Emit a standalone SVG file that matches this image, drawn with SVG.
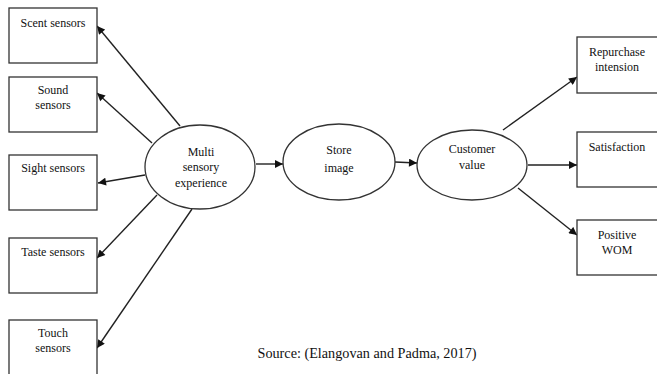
<svg xmlns="http://www.w3.org/2000/svg" width="657" height="374" viewBox="0 0 657 374">
<style>
.box{fill:#fff;stroke:#333;stroke-width:1.3}
.ell{fill:#fff;stroke:#333;stroke-width:1.3}
.t{font-family:'Liberation Serif','DejaVu Serif','Times New Roman',serif;font-size:12px;fill:#111;text-anchor:middle}
.src{font-family:'Liberation Serif','DejaVu Serif','Times New Roman',serif;font-size:14px;fill:#111;text-anchor:middle}
.c{stroke:#222;stroke-width:1.4;fill:none;marker-end:url(#ah)}
</style>
<defs>
<marker id="ah" viewBox="0 0 10 10" refX="10" refY="5" markerWidth="9" markerHeight="8" markerUnits="userSpaceOnUse" orient="auto">
<path d="M0,0 L10,5 L0,10 z" fill="#111"/>
</marker>
</defs>
<rect width="657" height="374" fill="#fff"/>
<g id="connectors">
<line class="c" x1="180" y1="126" x2="97" y2="26"/>
<line class="c" x1="152" y1="143" x2="97" y2="93"/>
<line class="c" x1="145" y1="175" x2="98" y2="183"/>
<line class="c" x1="157" y1="195" x2="97" y2="258"/>
<line class="c" x1="192" y1="209" x2="97" y2="348"/>
<line class="c" x1="256" y1="164" x2="283" y2="164"/>
<line class="c" x1="395" y1="162" x2="417" y2="163"/>
<line class="c" x1="503" y1="130" x2="577" y2="77"/>
<line class="c" x1="528" y1="165" x2="577" y2="165"/>
<line class="c" x1="518" y1="188" x2="577" y2="235"/>
</g>
<g id="scent"><rect class="box" x="9" y="8" width="88" height="55"/><text class="t" x="53" y="27">Scent sensors</text></g>
<g id="sound"><rect class="box" x="9" y="77" width="88" height="55"/><text class="t" x="53" y="94">Sound</text><text class="t" x="53" y="109">sensors</text></g>
<g id="sight"><rect class="box" x="9" y="155" width="88" height="55"/><text class="t" x="53" y="172">Sight sensors</text></g>
<g id="taste"><rect class="box" x="9" y="238" width="88" height="55"/><text class="t" x="53" y="256">Taste sensors</text></g>
<g id="touch"><rect class="box" x="9" y="320" width="88" height="60"/><text class="t" x="53" y="337">Touch</text><text class="t" x="53" y="352">sensors</text></g>
<g id="multi"><ellipse class="ell" cx="200" cy="167" rx="55" ry="42"/><text class="t" x="201" y="156">Multi</text><text class="t" x="201" y="171">sensory</text><text class="t" x="201" y="187">experience</text></g>
<g id="store"><ellipse class="ell" cx="339" cy="162" rx="56" ry="38"/><text class="t" x="339" y="154">Store</text><text class="t" x="339" y="172">image</text></g>
<g id="customer"><ellipse class="ell" cx="472" cy="165" rx="55" ry="35"/><text class="t" x="472" y="153">Customer</text><text class="t" x="472" y="169">value</text></g>
<g id="repurchase"><rect class="box" x="577" y="37" width="85" height="56"/><text class="t" x="617" y="56">Repurchase</text><text class="t" x="617" y="71">intension</text></g>
<g id="satisfaction"><rect class="box" x="577" y="132" width="85" height="55"/><text class="t" x="617" y="151">Satisfaction</text></g>
<g id="wom"><rect class="box" x="577" y="220" width="85" height="55"/><text class="t" x="617" y="239">Positive</text><text class="t" x="617" y="254">WOM</text></g>
<text class="src" x="367" y="358" textLength="219" lengthAdjust="spacingAndGlyphs">Source:  (Elangovan and Padma, 2017)</text>
</svg>
